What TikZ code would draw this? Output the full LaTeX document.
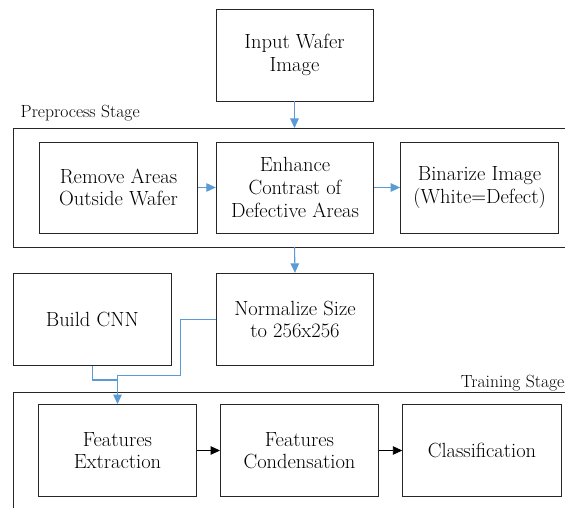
\documentclass[tikz,border=0pt]{standalone}
\usetikzlibrary{arrows.meta}
\definecolor{flowblue}{RGB}{91,155,213}
\definecolor{boxline}{RGB}{38,38,38}
\begin{document}
\begin{tikzpicture}[x=1pt,y=-1pt,
  procbox/.style={draw=boxline,line width=0.9pt,fill=white,align=center,
    inner sep=0pt,minimum height=92pt,
    font=\fontsize{20.5}{22.6}\selectfont},
  framebar/.style={draw=boxline,line width=0.9pt},
  stagelabel/.style={inner sep=0pt,font=\fontsize{17.6}{20}\selectfont},
  bluearrow/.style={draw=flowblue,line width=1.1pt,-{Triangle[length=9.5pt,width=8.5pt]}},
  blueline/.style={draw=flowblue,line width=1.1pt},
  blackarrow/.style={draw=black,line width=0.9pt,-{Triangle[length=9.5pt,width=8.5pt]}}]
\useasboundingbox[fill=white] (0,0) rectangle (565,508);

% top input box
\node[procbox,minimum width=157pt] (in) at (294.5,55) {Input Wafer\\Image};

% preprocess stage frame (open to the right)
\draw[framebar] (565,128) -- (13.3,128) -- (13.3,247) -- (565,247);
\coordinate (pretop) at (294.5,128);
\coordinate (prebot) at (294.5,247);
\node[stagelabel,anchor=base west] (prelabel) at (20.5,118) {Preprocess Stage};

\node[procbox,minimum width=158pt,minimum height=91pt] (rem) at (118.5,187.5) {Remove Areas\\Outside Wafer};
\node[procbox,minimum width=157.5pt,minimum height=91pt] (enh) at (295,187.5) {Enhance\\Contrast of\\Defective Areas};
\node[procbox,minimum width=158pt,minimum height=91pt] (bin) at (479.6,187.5) {Binarize Image\\(White=Defect)};

% middle row
\node[procbox,minimum width=158pt] (cnn) at (92.3,319.3) {Build CNN};
\node[procbox,minimum width=156.5pt] (norm) at (295,319.3) {Normalize Size\\to 256x256};

% training stage frame (open to the right and bottom)
\draw[framebar] (565,392) -- (13.3,392) -- (13.3,508);
\node[stagelabel,anchor=base east] (trainlabel) at (564.5,387) {Training Stage};

\node[procbox,minimum width=158pt] (ext) at (117.5,450.5) {Features\\Extraction};
\node[procbox,minimum width=158pt] (cond) at (299.5,450.5) {Features\\Condensation};
\node[procbox,minimum width=158.5pt] (cls) at (482,450.5) {Classification};

% connectors
\draw[bluearrow] (in.south) -- (pretop);
\draw[bluearrow] (rem.east) -- (enh.west);
\draw[bluearrow] (enh.east) -- (bin.west);
\draw[bluearrow] (prebot) -- (norm.north);

\coordinate (bend) at (180.7,375.3);
\coordinate (join) at (117.5,375.3);
\draw[blueline] (cnn.south) |- (117.5,380);
\draw[bluearrow] (norm.west) -| (bend) -- (join) -- (ext.north);

\draw[blackarrow] (ext.east) -- (cond.west);
\draw[blackarrow] (cond.east) -- (cls.west);
\end{tikzpicture}
\end{document}
